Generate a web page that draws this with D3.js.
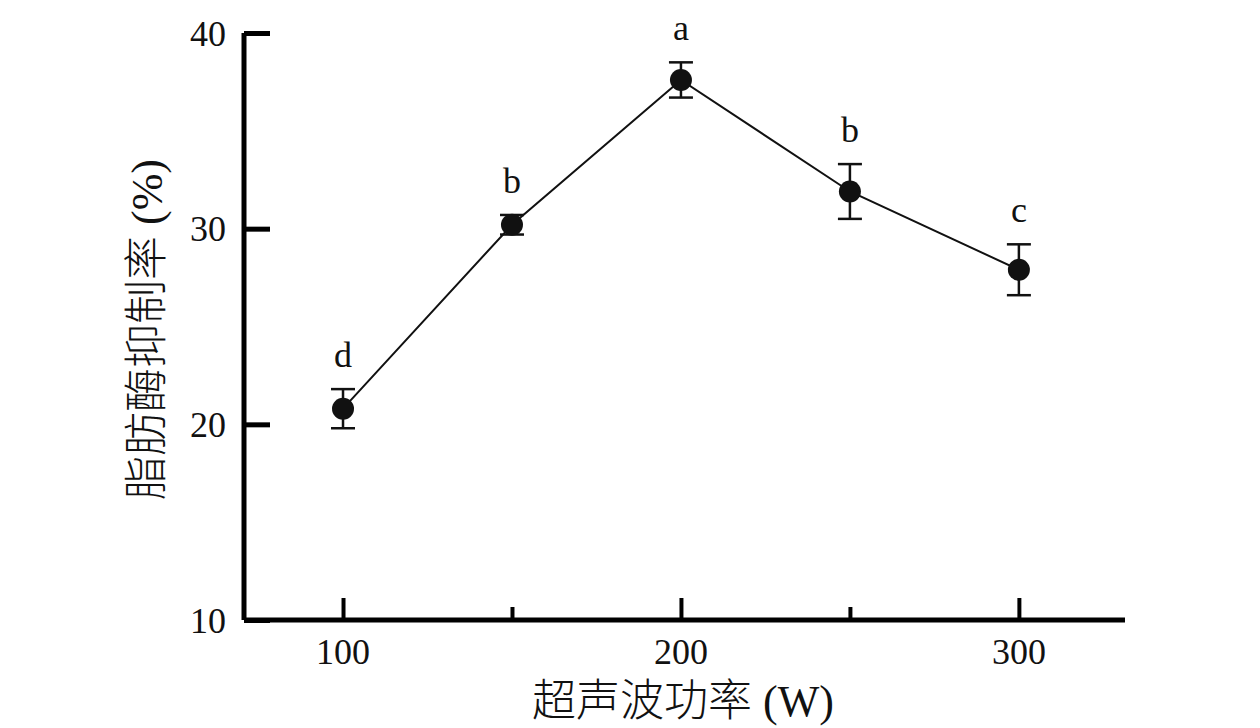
<html>
<head>
<meta charset="utf-8">
<script src="https://d3js.org/d3.v7.min.js"></script>
<style>
body {margin: 0; background: #fff;}
text {fill: #111;}
</style>
</head>
<body>
<svg id="chart" width="1260" height="728"></svg>
<script>
// data
var power = [100, 150, 200, 250, 300];
var inhibition = [20.8, 30.2, 37.6, 31.9, 27.9];
var errors = [1.0, 0.5, 0.9, 1.4, 1.3];
var letters = ["d", "b", "a", "b", "c"];
var yTicks = [10, 20, 30, 40];
var xMajor = [100, 200, 300];
var xMinor = [150, 250];

var svg = d3.select("#chart");
var serif = "'Liberation Serif', 'Times New Roman', serif";
var cjk = "'Noto Sans CJK SC', sans-serif";

//scales
var x = d3.scaleLinear().domain([70.7, 331.4]).range([244, 1125]);
var y = d3.scaleLinear().domain([10, 40]).range([620, 33]);

//axes
var yAxis = svg.append("g")
    .attr("transform", "translate(" + x(70.7) + ",0)")
    .call(d3.axisRight(y).tickValues(yTicks).tickSize(26).tickFormat(""));
yAxis.select(".domain").attr("d", "M0," + y(40) + "V" + y(10)).attr("stroke-width", 5);
yAxis.selectAll(".tick line").attr("stroke-width", 5);

var xAxis = svg.append("g")
    .attr("transform", "translate(0," + y(10) + ")")
    .call(d3.axisTop(x).tickValues(xMajor).tickSize(22).tickFormat(""));
xAxis.select(".domain").attr("d", "M" + x(70.7) + ",0H" + x(331.4)).attr("stroke-width", 5);
xAxis.selectAll(".tick line").attr("stroke-width", 4);

var xAxisMinor = svg.append("g")
    .attr("transform", "translate(0," + y(10) + ")")
    .call(d3.axisTop(x).tickValues(xMinor).tickSize(13).tickFormat(""));
xAxisMinor.select(".domain").remove();
xAxisMinor.selectAll(".tick line").attr("stroke-width", 4);

//tick labels
svg.append("g").selectAll("text")
    .data(yTicks)
    .enter()
    .append("text")
    .attr("x", 226)
    .attr("y", function(d) {return y(d);})
    .attr("dy", "0.35em")
    .attr("text-anchor", "end")
    .style("font-family", serif)
    .style("font-size", "36px")
    .text(function(d) {return d;});

svg.append("g").selectAll("text")
    .data(xMajor)
    .enter()
    .append("text")
    .attr("x", function(d) {return x(d);})
    .attr("y", 664)
    .attr("text-anchor", "middle")
    .style("font-family", serif)
    .style("font-size", "36px")
    .text(function(d) {return d;});

//axis titles
var xTitle = svg.append("text")
    .attr("x", 532)
    .attr("y", 716)
    .style("font-size", "44px");
xTitle.append("tspan").style("font-family", cjk).style("font-weight", 300).text("超声波功率");
xTitle.append("tspan").style("font-family", serif).text(" (W)");

var yTitle = svg.append("text")
    .attr("transform", "translate(162,500) rotate(-90)")
    .style("font-size", "44px");
yTitle.append("tspan").style("font-family", cjk).style("font-weight", 300).text("脂肪酶抑制率");
yTitle.append("tspan").style("font-family", serif).text(" (%)");

//line
var rows = power.map(function(p, i) {
    return {p: p, v: inhibition[i], e: errors[i], l: letters[i]};
});
svg.append("path")
    .datum(rows)
    .attr("fill", "none")
    .attr("stroke", "#111")
    .attr("stroke-width", 2)
    .attr("d", d3.line().x(function(d) {return x(d.p);}).y(function(d) {return y(d.v);}));

//error bars
var bars = svg.append("g").selectAll("g")
    .data(rows)
    .enter()
    .append("g")
    .attr("stroke", "#111")
    .attr("stroke-width", 2.5);
bars.append("line")
    .attr("x1", function(d) {return x(d.p);})
    .attr("x2", function(d) {return x(d.p);})
    .attr("y1", function(d) {return y(d.v + d.e);})
    .attr("y2", function(d) {return y(d.v - d.e);});
bars.append("line")
    .attr("x1", function(d) {return x(d.p) - 12;})
    .attr("x2", function(d) {return x(d.p) + 12;})
    .attr("y1", function(d) {return y(d.v + d.e);})
    .attr("y2", function(d) {return y(d.v + d.e);});
bars.append("line")
    .attr("x1", function(d) {return x(d.p) - 12;})
    .attr("x2", function(d) {return x(d.p) + 12;})
    .attr("y1", function(d) {return y(d.v - d.e);})
    .attr("y2", function(d) {return y(d.v - d.e);});

//points
svg.append("g").selectAll("circle")
    .data(rows)
    .enter()
    .append("circle")
    .attr("cx", function(d) {return x(d.p);})
    .attr("cy", function(d) {return y(d.v);})
    .attr("r", 11)
    .attr("fill", "#111");

//significance letters
svg.append("g").selectAll("text")
    .data(rows)
    .enter()
    .append("text")
    .attr("x", function(d) {return x(d.p);})
    .attr("y", function(d) {return y(d.v + d.e) - 22;})
    .attr("text-anchor", "middle")
    .style("font-family", serif)
    .style("font-size", "36px")
    .text(function(d) {return d.l;});
</script>
</body>
</html>
